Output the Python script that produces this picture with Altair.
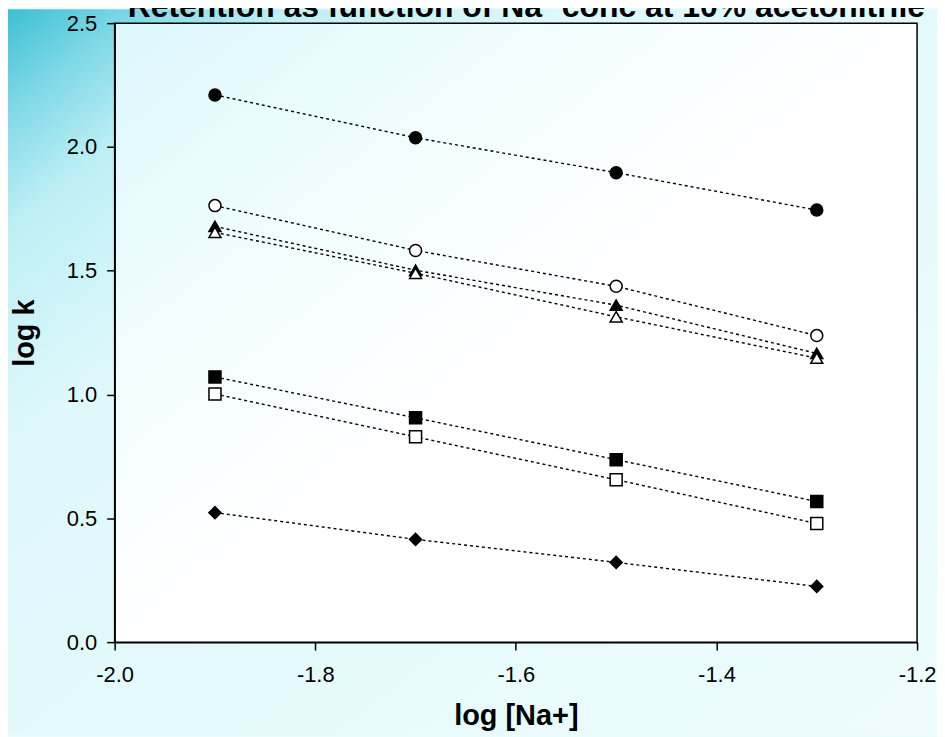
import altair as alt
import pandas as pd

# ---- data ----
log_na = [-1.9, -1.7, -1.5, -1.3]
series_names = ["filled circle", "open circle", "filled triangle", "open triangle",
                "filled square", "open square", "filled diamond"]
filled_circle = [2.21, 2.037, 1.896, 1.745]
open_circle = [1.763, 1.582, 1.437, 1.238]
filled_triangle = [1.679, 1.502, 1.361, 1.166]
open_triangle = [1.655, 1.490, 1.314, 1.147]
filled_square = [1.071, 0.906, 0.737, 0.568]
open_square = [1.002, 0.829, 0.656, 0.479]
filled_diamond = [0.523, 0.415, 0.322, 0.225]
x_ticks = [-2.0, -1.8, -1.6, -1.4, -1.2]
y_ticks = [0.0, 0.5, 1.0, 1.5, 2.0, 2.5]
title_text = "Retention as function of Na\u207a conc at 10% acetonitrile"

all_values = [filled_circle, open_circle, filled_triangle, open_triangle,
              filled_square, open_square, filled_diamond]
rows = []
for name, vals in zip(series_names, all_values):
    for xv, yv in zip(log_na, vals):
        rows.append({"series": name, "x": xv, "y": yv})
df = pd.DataFrame(rows)

W, H = 805, 621
PL, PT, PR, PB = 107, 14, 20, 94

shapes = ["circle", "circle", "triangle-up", "triangle-up", "square", "square", "diamond"]
fills = ["black", "white", "black", "white", "black", "white", "black"]
sizes = [145, 145, 160, 160, 160, 160, 180]

x_scale = alt.Scale(domain=[-2.0, -1.2], nice=False, zero=False)
y_scale = alt.Scale(domain=[0, 2.5], nice=False)

one = pd.DataFrame({"k": [0]})

outer_bg = alt.Chart(one).mark_rect(
    fill=alt.Gradient(
        gradient="linear",
        stops=[alt.GradientStop(color="#3cc0d4", offset=0.0),
               alt.GradientStop(color="#7fd8e6", offset=0.07),
               alt.GradientStop(color="#bdeff5", offset=0.15),
               alt.GradientStop(color="#def8fb", offset=0.3),
               alt.GradientStop(color="#eefcfd", offset=1.0)],
        x1=0, y1=0, x2=1, y2=1),
).encode(x=alt.value(-PL), x2=alt.value(W + PR), y=alt.value(-PT), y2=alt.value(H + PB))

inner_bg = alt.Chart(one).mark_rect(
    fill=alt.Gradient(
        gradient="linear",
        stops=[alt.GradientStop(color="#dcf8fb", offset=0.0),
               alt.GradientStop(color="#f2fdfe", offset=0.3),
               alt.GradientStop(color="#ffffff", offset=0.5),
               alt.GradientStop(color="#ffffff", offset=1.0)],
        x1=0, y1=0, x2=1, y2=1),
    stroke="black", strokeWidth=1.5,
).encode(x=alt.value(0), x2=alt.value(W), y=alt.value(0), y2=alt.value(H))

title = alt.Chart(one).mark_text(
    font="Liberation Sans", fontSize=32, fontWeight="bold", color="black",
    align="center", baseline="alphabetic",
).encode(x=alt.value(413), y=alt.value(-6), text=alt.value(title_text))

minus_expr = "(datum.value < 0 ? '-' : '') + format(abs(datum.value), '.1f')"

x_enc = alt.X("x:Q", scale=x_scale,
              axis=alt.Axis(values=x_ticks, labelExpr=minus_expr, title="log [Na+]",
                            labelPadding=15, labelFlush=False, labelOverlap=False,
                            titleX=W / 2, titleY=60,
                            titleBaseline="top", titleAlign="center", zindex=1))
y_enc = alt.Y("y:Q", scale=y_scale,
              axis=alt.Axis(values=y_ticks, labelExpr=minus_expr, title="log k",
                            labelPadding=10, labelFlush=False, labelOverlap=False,
                            titleX=-75, titleY=H / 2,
                            titleAlign="center", zindex=1))

lines = alt.Chart(df).mark_line(
    color="black", strokeWidth=1.4, strokeDash=[3, 3]
).encode(x=x_enc, y=y_enc, detail="series:N")

points = alt.Chart(df).mark_point(
    filled=True, stroke="black", strokeWidth=1.5, opacity=1
).encode(
    x=x_enc, y=y_enc,
    shape=alt.Shape("series:N", scale=alt.Scale(domain=series_names, range=shapes), legend=None),
    fill=alt.Fill("series:N", scale=alt.Scale(domain=series_names, range=fills), legend=None),
    size=alt.Size("series:N", scale=alt.Scale(domain=series_names, range=sizes), legend=None),
)

chart = alt.layer(outer_bg, inner_bg, title, lines, points).properties(
    width=W, height=H,
    autosize=alt.AutoSizeParams(type="none"),
    padding={"left": PL, "top": PT, "right": PR, "bottom": PB},
    background="#eafcfd",
).configure_view(stroke=None, fill=None).configure_axis(
    labelFont="Liberation Sans", labelFontSize=22, labelColor="black",
    titleFont="Liberation Sans", titleFontSize=29, titleFontWeight="bold", titleColor="black",
    domainColor="black", domainWidth=1.5, tickColor="black", tickWidth=1.5, tickSize=8,
    grid=False,
)

chart.save("out.html", embed_options={"renderer": "svg", "actions": False})
